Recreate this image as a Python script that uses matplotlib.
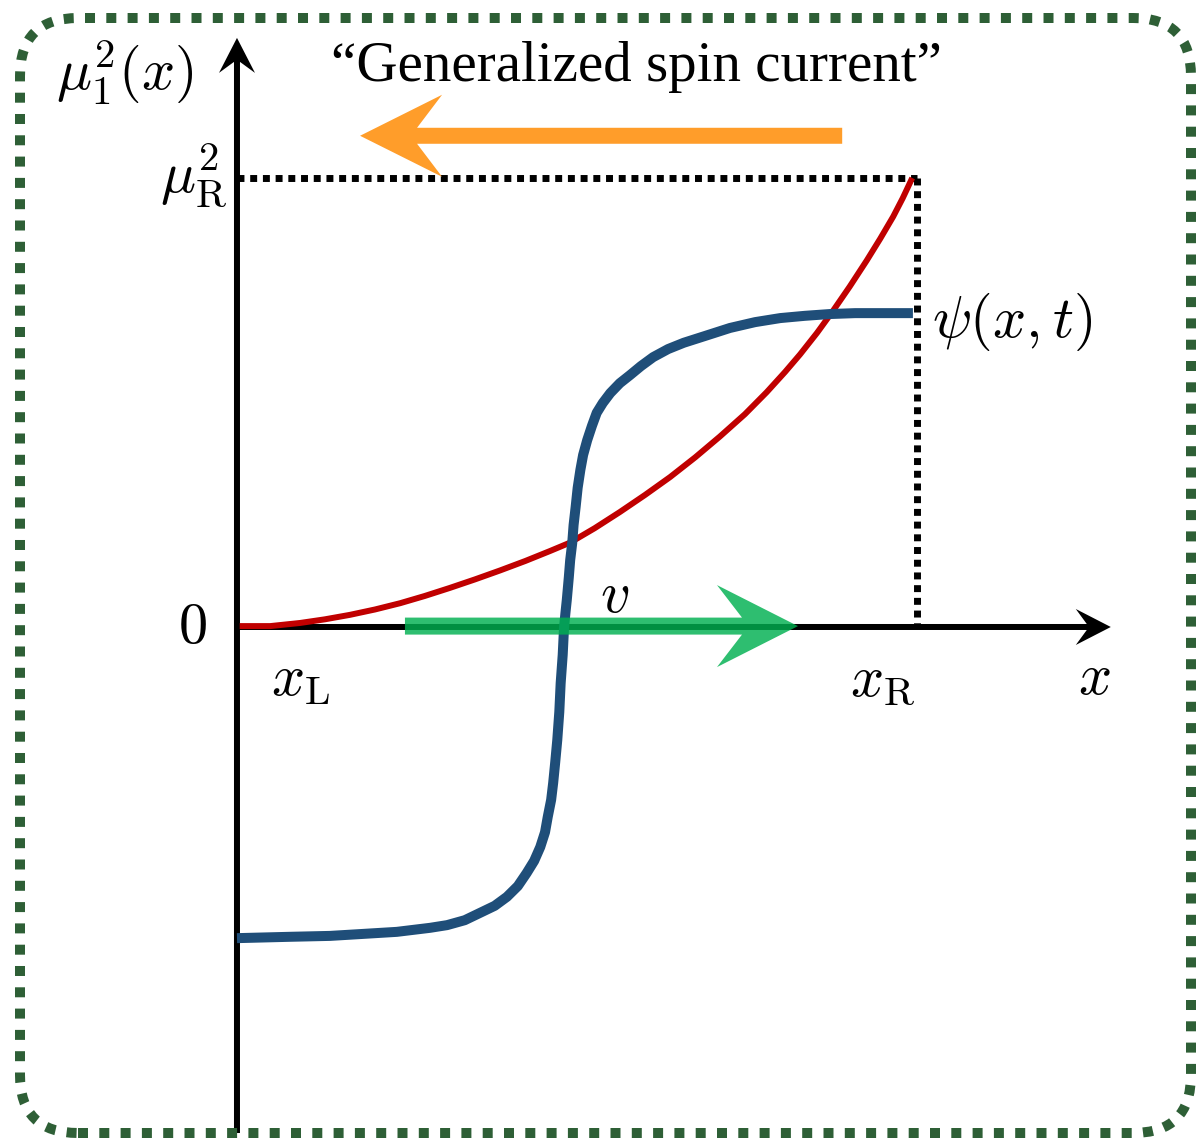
import numpy as np
import matplotlib.pyplot as plt
from matplotlib.patches import Polygon, FancyBboxPatch
from matplotlib.transforms import IdentityTransform

plt.rcParams['mathtext.fontset'] = 'cm'

# mu_1^2(x) profile, x in units of x_R - x_L, y in units of mu_R^2
red_x = [0.004, 0.049, 0.093, 0.129, 0.166, 0.203, 0.240, 0.276, 0.313, 0.350,
         0.387, 0.424, 0.460, 0.490, 0.526, 0.563, 0.600, 0.637, 0.674, 0.710,
         0.747, 0.779, 0.806, 0.828, 0.853, 0.876, 0.901, 0.926, 0.946, 0.965,
         0.979, 0.993]
red_y = [0.002, 0.002, 0.009, 0.017, 0.027, 0.039, 0.053, 0.069, 0.087, 0.106,
         0.126, 0.147, 0.169, 0.188, 0.220, 0.256, 0.294, 0.334, 0.378, 0.424,
         0.474, 0.523, 0.568, 0.607, 0.655, 0.703, 0.758, 0.816, 0.865, 0.914,
         0.955, 1.000]

# domain wall psi(x, t)
psi_x = [0.000, 0.078, 0.137, 0.235, 0.284, 0.309, 0.335, 0.357, 0.379, 0.397,
         0.413, 0.426, 0.437, 0.446, 0.453, 0.457, 0.462, 0.465, 0.468, 0.471,
         0.474, 0.476, 0.479, 0.481, 0.483, 0.485, 0.488, 0.490, 0.493, 0.495,
         0.498, 0.501, 0.505, 0.509, 0.515, 0.522, 0.529, 0.538, 0.549, 0.563,
         0.578, 0.594, 0.612, 0.634, 0.657, 0.688, 0.725, 0.762, 0.799, 0.835,
         0.872, 0.909, 0.946, 0.994]
psi_y = [-0.693, -0.690, -0.688, -0.679, -0.670, -0.664, -0.653, -0.637, -0.621, -0.601,
         -0.577, -0.548, -0.521, -0.490, -0.457, -0.423, -0.385, -0.347, -0.301, -0.252,
         -0.189, -0.125, -0.062, 0.000, 0.031, 0.060, 0.111, 0.149, 0.187, 0.227,
         0.267, 0.310, 0.350, 0.383, 0.416, 0.448, 0.477, 0.499, 0.521, 0.543,
         0.561, 0.581, 0.601, 0.619, 0.633, 0.648, 0.666, 0.679, 0.688, 0.693,
         0.697, 0.699, 0.699, 0.699]

x_R = 1.0
mu_R2 = 1.0
current_y = 1.094          # height of the spin-current arrow
current_span = (0.890, 0.181)
v_span = (0.247, 0.825)


def notched_arrow(ax, start, end, shaft, head_len, head_half, notch, **kw):
    # stealth-style arrow, sizes given in pixels
    p0 = ax.transData.transform(start)
    p1 = ax.transData.transform(end)
    u = (p1 - p0) / np.hypot(*(p1 - p0))
    n = np.array([-u[1], u[0]])
    h = shaft / 2
    pts = [p0 + n * h, p1 - u * notch + n * h, p1 - u * head_len + n * head_half, p1,
           p1 - u * head_len - n * head_half, p1 - u * notch - n * h, p0 - n * h]
    ax.add_patch(Polygon(pts, closed=True, transform=IdentityTransform(),
                         clip_on=False, lw=0, **kw))


fig = plt.figure(figsize=(12.03, 11.45), dpi=100)
ax = fig.add_axes([0, 0, 1, 1])
ax.axis('off')
ax.set_xlim(-0.3485, 1.4206)
ax.set_ylim(-1.1537, 1.3964)

# rounded dotted frame
frame = FancyBboxPatch((0.20, 0.12), 11.71, 11.15, boxstyle='round,pad=0,rounding_size=0.58',
                       transform=fig.dpi_scale_trans, fill=False, ec='#2E5F36', lw=7.2,
                       ls=(0, (1, 1.13)), clip_on=False)
fig.patches.append(frame)

# axes
notched_arrow(ax, (0, -1.127), (0, 1.312), 6, 35, 18, 24, fc='black', zorder=2)
notched_arrow(ax, (0, 0), (1.285, 0), 6, 35, 18, 24, fc='black', zorder=2)

ax.plot([0, x_R], [mu_R2, mu_R2], color='black', lw=5, ls=(0, (1, 0.83)), zorder=3)
ax.plot([x_R, x_R], [mu_R2, 0], color='black', lw=5, ls=(0, (1, 0.83)), zorder=3)

ax.plot(red_x, red_y, color='#C00000', lw=4.3, solid_capstyle='butt',
        solid_joinstyle='round', zorder=4)
ax.plot(psi_x, psi_y, color='#1F4E79', lw=7.2, solid_capstyle='butt',
        solid_joinstyle='round', zorder=5)

notched_arrow(ax, (current_span[0], current_y), (current_span[1], current_y), 16, 82, 41, 57,
              fc='#FF9D2A', zorder=6)
notched_arrow(ax, (v_span[0], 0.002), (v_span[1], 0.002), 17, 81, 41, 56,
              fc='#00B050', alpha=0.82, zorder=6)

# labels
fs = 42
ax.text(-0.165, 1.235, r'$\mu_1^2(x)$', fontsize=fs, ha='center', va='center')
ax.text(-0.015, 1.005, r'$\mu_\mathrm{R}^2$', fontsize=fs, ha='right', va='center')
ax.text(-0.065, 0.0, r'$0$', fontsize=fs, ha='center', va='center')
ax.text(0.094, -0.115, r'$x_\mathrm{L}$', fontsize=fs, ha='center', va='center')
ax.text(0.949, -0.115, r'$x_\mathrm{R}$', fontsize=fs, ha='center', va='center')
ax.text(1.261, -0.113, r'$x$', fontsize=fs, ha='center', va='center')
ax.text(0.556, 0.07, r'$v$', fontsize=fs, ha='center', va='center')
ax.text(1.140, 0.680, r'$\psi(x,t)$', fontsize=fs, ha='center', va='center')
ax.text(0.588, 1.247, '\u201cGeneralized spin current\u201d', fontsize=41,
        family='Liberation Serif', ha='center', va='center')

fig.savefig('out.png', dpi=100)
